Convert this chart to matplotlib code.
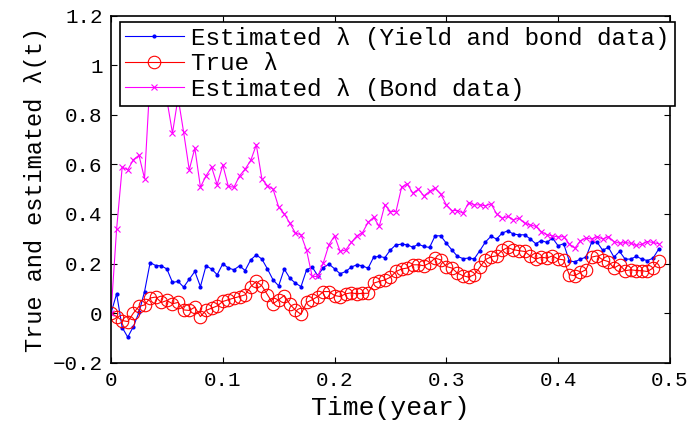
import numpy as np
import matplotlib
matplotlib.use('Agg')
import matplotlib.pyplot as plt

# time grid (year)
t = np.arange(99) * 0.005

# estimated lambda from yield and bond data
lam_yield_bond = [
    0.000, 0.078, -0.058, -0.097, -0.054, 0.003, 0.087, 0.204, 0.192, 0.191,
    0.178, 0.124, 0.128, 0.105, 0.137, 0.168, 0.107, 0.191, 0.178, 0.155,
    0.199, 0.182, 0.175, 0.191, 0.172, 0.215, 0.235, 0.218, 0.178, 0.134,
    0.110, 0.178, 0.141, 0.121, 0.107, 0.175, 0.186, 0.151, 0.184, 0.198,
    0.179, 0.159, 0.168, 0.186, 0.195, 0.191, 0.181, 0.226, 0.229, 0.224,
    0.255, 0.276, 0.278, 0.276, 0.266, 0.278, 0.269, 0.265, 0.312, 0.312,
    0.282, 0.255, 0.229, 0.220, 0.222, 0.219, 0.252, 0.287, 0.310, 0.299,
    0.323, 0.332, 0.319, 0.316, 0.316, 0.300, 0.280, 0.293, 0.285, 0.303,
    0.272, 0.280, 0.211, 0.207, 0.218, 0.226, 0.285, 0.286, 0.253, 0.266,
    0.226, 0.249, 0.218, 0.218, 0.229, 0.218, 0.212, 0.222, 0.258,
]

# true lambda
lam_true = [
    0.000, -0.014, -0.030, -0.034, 0.000, 0.027, 0.033, 0.061, 0.065, 0.043,
    0.051, 0.038, 0.043, 0.013, 0.011, 0.024, -0.014, 0.011, 0.020, 0.029,
    0.047, 0.054, 0.061, 0.067, 0.074, 0.107, 0.128, 0.110, 0.074, 0.038,
    0.054, 0.071, 0.036, 0.012, -0.005, 0.043, 0.054, 0.067, 0.087, 0.087,
    0.071, 0.067, 0.078, 0.082, 0.078, 0.080, 0.080, 0.121, 0.128, 0.134,
    0.145, 0.168, 0.178, 0.182, 0.195, 0.195, 0.191, 0.202, 0.222, 0.215,
    0.188, 0.182, 0.161, 0.151, 0.145, 0.155, 0.185, 0.216, 0.227, 0.231,
    0.253, 0.265, 0.256, 0.252, 0.249, 0.231, 0.218, 0.226, 0.222, 0.231,
    0.218, 0.215, 0.155, 0.151, 0.164, 0.175, 0.226, 0.231, 0.215, 0.208,
    0.182, 0.195, 0.171, 0.175, 0.172, 0.171, 0.168, 0.182, 0.212,
]

# estimated lambda from bond data only
lam_bond = [
    0.000, 0.339, 0.589, 0.578, 0.619, 0.637, 0.543, 0.950, 0.930, 0.980,
    0.860, 0.726, 0.870, 0.729, 0.578, 0.666, 0.508, 0.554, 0.589, 0.518,
    0.598, 0.511, 0.508, 0.554, 0.581, 0.616, 0.679, 0.541, 0.514, 0.500,
    0.428, 0.401, 0.363, 0.323, 0.316, 0.253, 0.148, 0.148, 0.204, 0.276,
    0.312, 0.249, 0.255, 0.285, 0.312, 0.325, 0.366, 0.387, 0.350, 0.437,
    0.410, 0.410, 0.508, 0.522, 0.484, 0.500, 0.473, 0.491, 0.504, 0.480,
    0.437, 0.414, 0.414, 0.403, 0.446, 0.437, 0.437, 0.433, 0.441, 0.401,
    0.383, 0.390, 0.377, 0.383, 0.363, 0.356, 0.350, 0.329, 0.316, 0.312,
    0.307, 0.309, 0.279, 0.262, 0.292, 0.303, 0.299, 0.309, 0.299, 0.309,
    0.289, 0.282, 0.285, 0.282, 0.273, 0.278, 0.289, 0.285, 0.280,
]

xticks = [0, 0.1, 0.2, 0.3, 0.4, 0.5]
xtick_labels = ['0', '0.1', '0.2', '0.3', '0.4', '0.5']
yticks = [-0.2, 0, 0.2, 0.4, 0.6, 0.8, 1.0, 1.2]
ytick_labels = ['\u22120.2', '0', '0.2', '0.4', '0.6', '0.8', '1', '1.2']

labels = ['Estimated \u03bb (Yield and bond data)', 'True \u03bb',
          'Estimated \u03bb (Bond data)']

plt.rcParams['font.family'] = ['Liberation Mono', 'DejaVu Sans Mono']

fig = plt.figure(figsize=(6.87, 4.22), dpi=100)
ax = fig.add_axes([0.1616, 0.1405, 0.8134, 0.8223])

ax.plot(t, lam_yield_bond, color='#0000ff', lw=0.8, marker='.', ms=4,
        label=labels[0])
ax.plot(t, lam_true, color='#ff0000', lw=0.8, marker='o', ms=9,
        mfc='none', mew=0.8, label=labels[1])
ax.plot(t, lam_bond, color='#ff00ff', lw=0.8, marker='x', ms=5,
        mew=0.8, label=labels[2])

ax.set_xlim(0, 0.5)
ax.set_ylim(-0.2, 1.2)
ax.set_xticks(xticks)
ax.set_xticklabels(xtick_labels)
ax.set_yticks(yticks)
ax.set_yticklabels(ytick_labels)
ax.tick_params(direction='in', length=4, width=0.8, top=True, right=True,
               labelsize=15, pad=6)
for s in ax.spines.values():
    s.set_linewidth(1.2)

ax.set_xlabel('Time(year)', fontsize=19, labelpad=4)
ax.set_ylabel('True and estimated \u03bb(t)', fontsize=17, labelpad=4)

leg = ax.legend(loc='upper left', bbox_to_anchor=(0.016, 0.983),
                fontsize=17.5, frameon=True, fancybox=False, framealpha=1,
                edgecolor='black', borderpad=0.22, labelspacing=0.1,
                handlelength=2.4, handletextpad=0.3, borderaxespad=0)
leg.get_frame().set_linewidth(1.2)

fig.savefig('out.png', dpi=100)
